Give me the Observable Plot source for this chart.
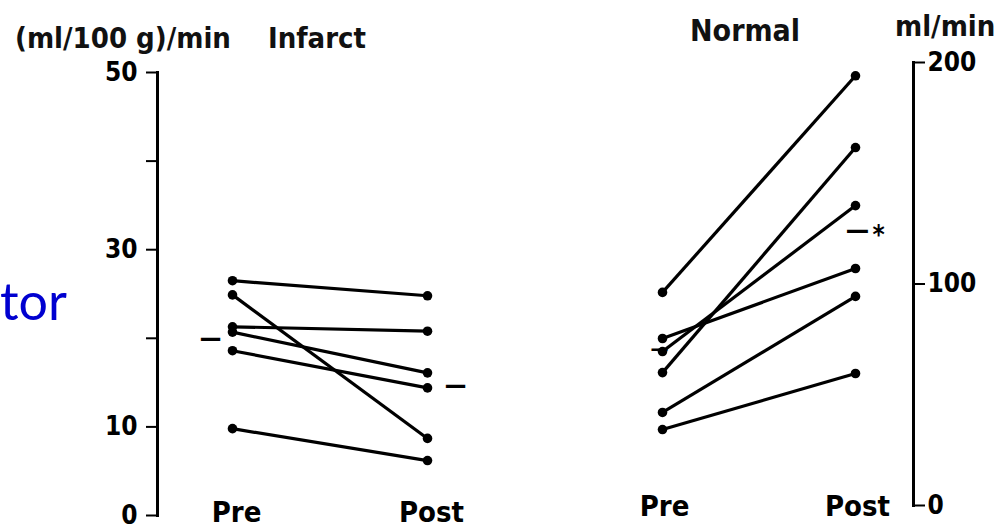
<!DOCTYPE html>
<html>
<head>
<meta charset="utf-8">
<script src="https://cdn.jsdelivr.net/npm/d3@7"></script>
<script src="https://cdn.jsdelivr.net/npm/@observablehq/plot@0.6"></script>
<style>
  html, body { margin: 0; padding: 0; background: white; }
  #wrap { position: relative; width: 1000px; height: 527px; overflow: hidden; display: flex; }
  .lbl { position: absolute; white-space: nowrap; font-family: "DejaVu Sans Condensed", "DejaVu Sans", sans-serif; font-stretch: condensed; font-weight: bold; color: #111; }
  #tor { position: absolute; left: 0; width: 64px; text-align: right; font-family: Lato, "Open Sans", sans-serif; color: #0000d0; }
</style>
</head>
<body>
<div id="wrap"></div>
<script>
// ---- data ----
const stages = ["Pre", "Post"];
const infarctPre  = [26.5, 24.9, 21.3, 20.7, 18.6, 9.8];
const infarctPost = [24.8,  8.7, 20.8, 16.1, 14.4, 6.2];
const infarctMeans = [20.0, 14.7];           // Pre, Post mean marks
const normalPre  = [96.2, 60.0, 69.5, 75.4, 42.0, 34.3];
const normalPost = [194, 161.6, 135.4, 107, 94.4, 59.6];
const normalMeans = [71, 124];               // Pre, Post mean marks
const leftTicks = [0, 10, 20, 30, 40, 50];
const leftTickLabels = [0, 10, 30, 50];
const rightTicks = [0, 100, 200];
const titles = {leftUnit: "(ml/100 g)/min", left: "Infarct", right: "Normal", rightUnit: "ml/min", side: "tor"};

const FONT = '"DejaVu Sans Condensed", "DejaVu Sans", sans-serif';
const infarct = infarctPre.map((v, i) => ({pre: v, post: infarctPost[i]}));
const normal = normalPre.map((v, i) => ({pre: v, post: normalPost[i]}));
const meanRows = (m) => stages.map((s, i) => ({stage: s, value: m[i]}));

function pairMarks(rows) {
  return [
    Plot.link(rows, {x1: () => "Pre", x2: () => "Post", y1: "pre", y2: "post", stroke: "#000", strokeWidth: 3.2}),
    Plot.dot(rows, {x: () => "Pre", y: "pre", r: 4.8, fill: "#000"}),
    Plot.dot(rows, {x: () => "Post", y: "post", r: 4.8, fill: "#000"})
  ];
}

const baseStyle = {fontFamily: FONT, fontStretch: "condensed", fontWeight: "bold", color: "#000", background: "white", overflow: "visible"};

const left = Plot.plot({
  width: 560, height: 527,
  marginTop: 72, marginBottom: 12, marginLeft: 157, marginRight: 20,
  x: {type: "point", domain: stages, range: [232, 427], padding: 0, axis: null},
  y: {domain: [0, 50], axis: null},
  style: baseStyle,
  marks: [
    Plot.frame({anchor: "left", strokeWidth: 3}),
    Plot.axisY(leftTicks, {tickSize: 11, tickPadding: 9, fontSize: 26, strokeWidth: 2,
      tickFormat: d => leftTickLabels.includes(d) ? String(d) : ""}),
    ...pairMarks(infarct),
    Plot.text(meanRows(infarctMeans).slice(0, 1), {x: "stage", y: "value", text: () => "—", fontSize: 24, dx: -22}),
    Plot.text(meanRows(infarctMeans).slice(1), {x: "stage", y: "value", text: () => "—", fontSize: 24, dx: 28}),
    Plot.text(stages, {x: d => d, frameAnchor: "bottom", lineAnchor: "bottom", dy: 6, fontSize: 29, dx: 4})
  ]
});

const right = Plot.plot({
  width: 440, height: 527,
  marginTop: 62, marginBottom: 22, marginLeft: 20, marginRight: 87,
  x: {type: "point", domain: stages, range: [102, 295], padding: 0, axis: null},
  y: {domain: [0, 200], axis: null},
  style: baseStyle,
  marks: [
    Plot.frame({anchor: "right", strokeWidth: 3}),
    Plot.axisY(rightTicks, {anchor: "right", tickSize: 11, tickPadding: 3, fontSize: 26, strokeWidth: 2}),
    ...pairMarks(normal),
    Plot.text(meanRows(normalMeans).slice(0, 1), {x: "stage", y: "value", text: () => "—", fontSize: 20, dx: -3}),
    Plot.text(meanRows(normalMeans).slice(1), {x: "stage", y: "value", text: () => "—", fontSize: 26, dx: 2}),
    Plot.text(meanRows(normalMeans).slice(1), {x: "stage", y: "value", text: () => "*", fontSize: 26, dx: 23, dy: 5}),
    Plot.text(stages, {x: d => d, frameAnchor: "bottom", lineAnchor: "bottom", dy: 10, fontSize: 29, dx: 2})
  ]
});

const wrap = document.getElementById("wrap");
wrap.appendChild(left);
wrap.appendChild(right);

function label(text, cls, css) {
  const d = document.createElement("div");
  d.className = cls;
  d.textContent = text;
  Object.assign(d.style, css);
  wrap.appendChild(d);
  return d;
}
label(titles.leftUnit, "lbl", {left: "15px", top: "24px", fontSize: "29px", lineHeight: "29px"});
label(titles.left, "lbl", {left: "268px", top: "24px", fontSize: "29px", lineHeight: "29px"});
label(titles.right, "lbl", {left: "690px", top: "16px", fontSize: "30px", lineHeight: "30px"});
label(titles.rightUnit, "lbl", {left: "895px", top: "12px", fontSize: "29px", lineHeight: "29px"});
label(titles.side, "", {fontSize: "52px", lineHeight: "52px", top: "274px"}).id = "tor";
</script>
</body>
</html>
